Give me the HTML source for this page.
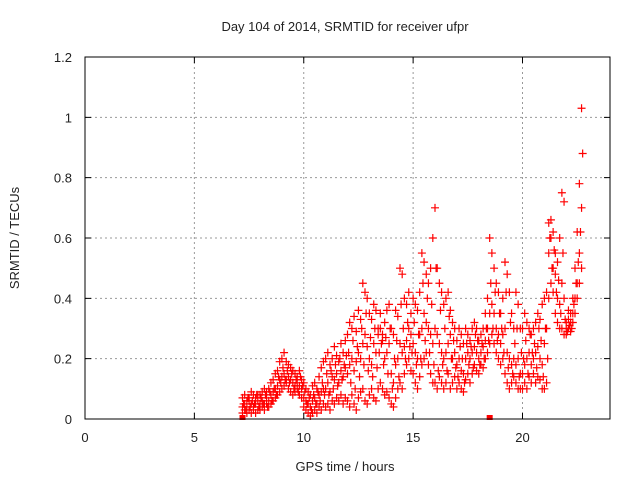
<!DOCTYPE html>
<html><head><meta charset="utf-8"><style>
body{margin:0;background:#fff}
svg text{font-family:"Liberation Sans",sans-serif;font-size:13px;fill:#222}
</style></head><body>
<svg id="chart" width="640" height="480" xmlns="http://www.w3.org/2000/svg">
<text x="345" y="31" text-anchor="middle">Day 104 of 2014, SRMTID for receiver ufpr</text>
<text x="345" y="471" text-anchor="middle">GPS time / hours</text>
<text transform="translate(19,238) rotate(-90)" text-anchor="middle">SRMTID / TECUs</text>
<g id="grid"></g>
<g id="marks"></g>
<rect x="85" y="57" width="525" height="362" fill="none" stroke="#000" stroke-width="1"/>
<g id="ticks"></g>
</svg>
<script>
const xTicks=[0,5,10,15,20];
const yTicks=[0,0.2,0.4,0.6,0.8,1,1.2];
const yTickLabels=["0","0.2","0.4","0.6","0.8","1","1.2"];
const startHour=7.2, stepHour=0.1;
const loVals=[.02,.03,.02,.03,.02,.03,.02,.03,
.03,.04,.03,.05,.04,.05,.06,.07,.08,.09,
.1,.11,.12,.1,.09,.08,.09,.1,.08,.07,
.04,.03,.02,.01,.02,.03,.02,.04,.03,.05,
.04,.05,.03,.06,.05,.07,.06,.08,.05,.07,
.06,.04,.08,.05,.03,.07,.09,.1,.06,.05,
.08,.1,.07,.06,.1,.12,.1,.08,.09,.07,
.05,.04,.07,.1,.12,.1,.15,.18,.2,.16,
.15,.12,.1,.14,.18,.2,.22,.18,.15,.12,
.12,.1,.14,.12,.1,.12,.15,.1,.12,.14,
.1,.12,.1,.09,.13,.15,.12,.15,.18,.16,
.15,.18,.17,.2,.22,.25,.28,.25,.22,.2,
.18,.2,.15,.12,.1,.12,.14,.12,.1,.1,
.1,.12,.1,.14,.12,.15,.12,.14,.13,.1,
.1,.12,.4,.45,.42,.35,.32,.3,.3,.28,
.28,.3,.29,.32,.35,.4,.45,.5];
const midVals=[.04,.05,.04,.06,.05,.04,.05,.06,
.05,.06,.05,.07,.06,.08,.09,.1,.11,.13,
.14,.15,.13,.14,.13,.12,.11,.12,.11,.1,
.07,.06,.05,.04,.06,.07,.05,.08,.09,.1,
.1,.12,.09,.14,.13,.15,.12,.16,.14,.17,
.15,.18,.2,.16,.19,.22,.2,.25,.28,.24,
.2,.18,.25,.22,.28,.3,.26,.2,.22,.25,
.15,.12,.18,.2,.25,.22,.24,.26,.3,.28,
.25,.22,.2,.28,.3,.35,.32,.3,.28,.25,
.3,.28,.25,.22,.2,.22,.25,.28,.2,.22,
.18,.2,.16,.15,.2,.22,.2,.22,.24,.22,
.2,.22,.24,.26,.3,.35,.38,.35,.3,.28,
.25,.28,.3,.22,.2,.18,.2,.18,.2,.15,
.15,.18,.2,.22,.18,.2,.22,.24,.2,.18,
.25,.3,.55,.6,.5,.48,.4,.38,.45,.4,
.3,.33,.32,.35,.4,.45,.55,.7];
const hiVals=[.07,.08,.06,.07,.09,.08,.07,.08,
.08,.09,.1,.09,.1,.12,.13,.15,.16,.19,
.2,.22,.19,.18,.17,.16,.15,.14,.16,.13,
.12,.1,.09,.08,.11,.12,.1,.14,.17,.19,
.2,.22,.18,.2,.24,.21,.19,.25,.22,.26,
.28,.32,.3,.34,.29,.36,.33,.45,.42,.4,
.35,.33,.38,.36,.3,.35,.28,.32,.36,.38,
.3,.28,.36,.34,.5,.48,.4,.38,.42,.35,
.4,.38,.36,.42,.55,.52,.48,.45,.5,.6,
.7,.5,.45,.42,.38,.4,.42,.36,.32,.3,
.26,.3,.28,.25,.3,.28,.26,.3,.32,.3,
.26,.28,.3,.35,.4,.6,.55,.5,.45,.42,
.35,.4,.52,.48,.42,.35,.3,.42,.38,.3,
.3,.35,.32,.3,.28,.3,.32,.35,.33,.38,
.4,.42,.65,.66,.62,.55,.52,.6,.75,.72,
.32,.36,.35,.4,.5,.62,.78,1.03];
const scatterVals=[.05,.03,.07,.04,.06,.05,.08,.04,
.07,.05,.08,.04,.09,.06,.1,.08,.14,.12,
.17,.13,.16,.12,.15,.1,.13,.09,.14,.11,
.09,.05,.07,.03,.08,.05,.09,.06,.12,.08,
.15,.08,.16,.1,.18,.11,.2,.13,.18,.21,
.22,.12,.26,.1,.24,.14,.3,.18,.35,.16,
.27,.14,.3,.17,.22,.25,.18,.27,.15,.3,
.1,.2,.26,.14,.38,.3,.2,.32,.24,.22,
.32,.18,.28,.2,.45,.26,.4,.22,.38,.18,
.5,.16,.36,.18,.3,.16,.34,.2,.26,.17,
.14,.24,.2,.12,.25,.18,.24,.17,.28,.26,
.18,.25,.2,.3,.26,.45,.3,.42,.26,.35,
.3,.22,.42,.17,.32,.15,.25,.3,.14,.22,
.2,.26,.15,.28,.22,.25,.17,.3,.26,.14,
.3,.2,.6,.5,.56,.42,.46,.35,.55,.33,
.29,.31,.3,.38,.45,.52,.62,.88];
const zeroHours=[7.2,18.5];
const zeroVals=[0,0];

const X0=85,X1=610,Y0=419,Y1=57,XMAX=24,YMAX=1.2;
const sx=h=>X0+h/XMAX*(X1-X0);
const sy=v=>Y0-v/YMAX*(Y0-Y1);
const NS="http://www.w3.org/2000/svg";
const grid=document.getElementById('grid'),ticks=document.getElementById('ticks'),marks=document.getElementById('marks');
function mk(tag,attrs,parent){const e=document.createElementNS(NS,tag);for(const k in attrs)e.setAttribute(k,attrs[k]);parent.appendChild(e);return e;}
xTicks.forEach((t,i)=>{
  const x=sx(t);
  if(t>0){const g=mk('line',{x1:x,y1:Y1,x2:x,y2:Y0,stroke:'#999','stroke-dasharray':'2,3'},grid);
  
  }
  const tk=mk('path',{d:`M${x},${Y0}v-6M${x},${Y1}v6`,stroke:'#000'},ticks);
  
  
  const l=mk('text',{x:x,y:442,'text-anchor':'middle'},ticks);l.textContent=String(t);
  
  
});
yTicks.forEach((t,i)=>{
  const y=sy(t);
  if(t>0&&t<YMAX){const g=mk('line',{x1:X0,y1:y,x2:X1,y2:y,stroke:'#999','stroke-dasharray':'2,3'},grid);
  
  }
  const tk=mk('path',{d:`M${X0},${y}h6M${X1},${y}h-6`,stroke:'#000'},ticks);
  
  
  const l=mk('text',{x:72,y:y+5,'text-anchor':'end'},ticks);l.textContent=yTickLabels[i];
  
  
});
function plus(h,v){
  const x=sx(h),y=sy(v);
  const p=mk('path',{d:`M${x-4},${y}h8M${x},${y-4}v8`,stroke:'#f00','stroke-width':1.2},marks);
  
  
}
[loVals,midVals,hiVals].forEach(arr=>arr.forEach((v,i)=>{
  plus(startHour+i*stepHour,v);
}));
scatterVals.forEach((v,i)=>{
  plus(startHour+i*stepHour+0.05,v);
});
zeroHours.forEach((h,i)=>{
  const r=mk('rect',{x:sx(h)-3,y:sy(zeroVals[i])-4,width:6,height:5,fill:'#f00'},marks);
  
  
});
</script>
</body></html>
